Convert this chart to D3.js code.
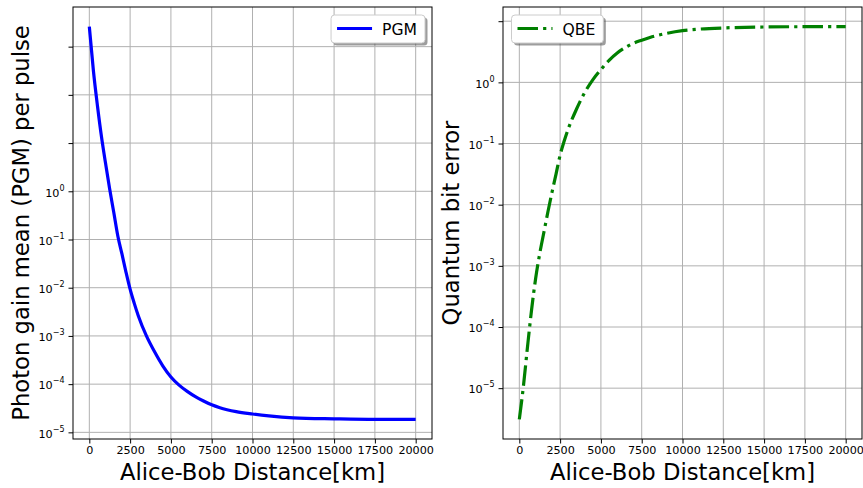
<!DOCTYPE HTML>
<html>

<head>
  <meta charset="utf-8">
  <title>PGM and QBE vs distance</title>
  <script src="https://d3js.org/d3.v7.min.js"></script>
  <style>
    body { margin: 0; background: #fff; }
    svg { display: block; font-family: "DejaVu Sans", sans-serif; }
  </style>
</head>

<body>
  <script>
    // values
    const distanceKm = [0, 250, 500, 750, 1000, 1250, 1500, 1750, 2000, 2250, 2500, 2750, 3000, 3500,
      4000, 4500, 5000, 5500, 6000, 6500, 7000, 7500, 8000, 9000, 10000, 11000, 12500, 15000, 17500, 20000];

    const pgmValues = [2600, 316, 58.9, 13.2, 3.72, 1.10, 0.363, 0.117, 0.0501, 0.0209, 0.00933, 0.00479,
      0.00263, 0.00100, 4.68e-4, 2.40e-4, 1.41e-4, 9.55e-5, 7.08e-5, 5.50e-5, 4.47e-5, 3.72e-5, 3.24e-5,
      2.69e-5, 2.40e-5, 2.19e-5, 2.00e-5, 1.91e-5, 1.86e-5, 1.86e-5];

    const qbeValues = [3.09e-6, 1.07e-5, 4.7e-5, 1.9e-4, 6.2e-4, 1.58e-3, 3.47e-3, 7.6e-3, 0.0158, 0.0316,
      0.0646, 0.110, 0.174, 0.363, 0.676, 1.10, 1.62, 2.29, 3.02, 3.72, 4.37, 4.90, 5.43,
      6.31, 7.01, 7.41, 7.76, 8.04, 8.13, 8.15];

    const xTicks = [0, 2500, 5000, 7500, 10000, 12500, 15000, 17500, 20000];
    const pgmTickExps = [-5, -4, -3, -2, -1, 0, 1, 2, 3];
    const qbeTickExps = [-5, -4, -3, -2, -1, 0, 1];
    const labelledExps = [-5, -4, -3, -2, -1, 0];

    const W = 863, H = 488;
    const svg = d3.select('body').append('svg')
      .attr('width', W)
      .attr('height', H);

    // matplotlib style padding: 5% of the data range, in log space for y
    const padLog = (vals) => {
      const lo = Math.log10(d3.min(vals)), hi = Math.log10(d3.max(vals));
      const m = (hi - lo) * 0.05;
      return [Math.pow(10, lo - m), Math.pow(10, hi + m)];
    };
    const xMin = d3.min(distanceKm), xMax = d3.max(distanceKm);
    const xPad = (xMax - xMin) * 0.05;

    const drawPanel = (opt) => {
      const { left, right, top, bottom } = opt;
      const x = d3.scaleLinear().domain([xMin - xPad, xMax + xPad]).range([left, right]);
      const y = d3.scaleLog().domain(padLog(opt.values)).range([bottom, top]);
      const g = svg.append('g');

      // grid
      g.append('g')
        .selectAll('line.gx')
        .data(xTicks)
        .join('line')
        .attr('x1', d => x(d)).attr('x2', d => x(d))
        .attr('y1', top).attr('y2', bottom)
        .attr('stroke', '#b0b0b0').attr('stroke-width', 1);
      g.append('g')
        .selectAll('line.gy')
        .data(opt.tickExps)
        .join('line')
        .attr('x1', left).attr('x2', right)
        .attr('y1', d => y(Math.pow(10, d))).attr('y2', d => y(Math.pow(10, d)))
        .attr('stroke', '#b0b0b0').attr('stroke-width', 1);

      // x axis
      const xAxis = g.append('g')
        .attr('transform', `translate(0,${bottom})`)
        .call(d3.axisBottom(x).tickValues(xTicks).tickFormat(d3.format('d'))
          .tickSize(4.5).tickSizeOuter(0).tickPadding(3));
      xAxis.select('.domain').remove();
      xAxis.selectAll('text').attr('font-size', 11.2).attr('font-family', 'DejaVu Sans').attr('fill', '#000');

      // y axis with 10^n labels
      const yAxis = g.append('g')
        .attr('transform', `translate(${left},0)`)
        .call(d3.axisLeft(y).tickValues(opt.tickExps.map(e => Math.pow(10, e))).tickFormat(() => '')
          .tickSize(4.5).tickSizeOuter(0).tickPadding(4));
      yAxis.select('.domain').remove();
      yAxis.selectAll('.tick text').each(function (d) {
        const e = Math.round(Math.log10(d));
        const t = d3.select(this)
          .attr('font-size', 11.2).attr('font-family', 'DejaVu Sans').attr('fill', '#000')
          .attr('dy', '0.42em');
        if (!labelledExps.includes(e)) return;
        t.append('tspan').text('10');
        t.append('tspan')
          .attr('font-size', 8).attr('dy', '-0.75em')
          .text(e < 0 ? '\u2212' + Math.abs(e) : String(e));
      });

      // data line
      const line = d3.line()
        .x((d, i) => x(distanceKm[i]))
        .y(d => y(d))
        .curve(d3.curveMonotoneX);
      g.append('path')
        .datum(opt.values)
        .attr('d', line)
        .attr('fill', 'none')
        .attr('stroke', opt.color)
        .attr('stroke-width', 3.2)
        .attr('stroke-dasharray', opt.dash || null);

      // spines
      g.append('rect')
        .attr('x', left).attr('y', top)
        .attr('width', right - left).attr('height', bottom - top)
        .attr('fill', 'none').attr('stroke', '#000').attr('stroke-width', 1);

      // labels
      g.append('text')
        .attr('x', (left + right) / 2).attr('y', 480)
        .attr('text-anchor', 'middle')
        .attr('font-size', 22.7)
        .text('Alice-Bob Distance[km]');
      g.append('text')
        .attr('transform', `translate(${opt.yLabelX},${(top + bottom) / 2}) rotate(-90)`)
        .attr('text-anchor', 'middle')
        .attr('font-size', 22.7)
        .text(opt.yLabel);

      // legend
      const fs = 15.6;
      const tmp = g.append('text').attr('font-size', fs).text(opt.name);
      const tw = tmp.node().getComputedTextLength();
      tmp.remove();
      const bw = 6 + 35 + 10 + tw + 8, bh = 28;
      const bx = opt.legendRight ? right - 7 - bw : left + 8.5;
      const by = top + 8;
      const lg = g.append('g');
      lg.append('rect')
        .attr('x', bx + 2.5).attr('y', by + 2.5)
        .attr('width', bw).attr('height', bh).attr('rx', 3.5)
        .attr('fill', '#4d4d4d').attr('fill-opacity', 0.55);
      lg.append('rect')
        .attr('x', bx).attr('y', by)
        .attr('width', bw).attr('height', bh).attr('rx', 3.5)
        .attr('fill', '#fff').attr('stroke', '#cccccc').attr('stroke-width', 1);
      lg.append('line')
        .attr('x1', bx + 6).attr('x2', bx + 41)
        .attr('y1', by + bh / 2 - 0.5).attr('y2', by + bh / 2 - 0.5)
        .attr('stroke', opt.color).attr('stroke-width', 3.2)
        .attr('stroke-dasharray', opt.dash || null);
      lg.append('text')
        .attr('x', bx + 51).attr('y', by + bh / 2 + 5.5)
        .attr('font-size', fs)
        .text(opt.name);
    };

    drawPanel({
      left: 73, right: 432, top: 7, bottom: 439,
      values: pgmValues, tickExps: pgmTickExps,
      color: '#0000ff', name: 'PGM', legendRight: true,
      yLabel: 'Photon gain mean (PGM) per pulse', yLabelX: 28.5
    });

    drawPanel({
      left: 503, right: 862, top: 7, bottom: 439,
      values: qbeValues, tickExps: qbeTickExps,
      color: '#008000', name: 'QBE', legendRight: false, dash: '20.5,5.1,3.2,5.1',
      yLabel: 'Quantum bit error', yLabelX: 458.5
    });
  </script>
</body>

</html>
